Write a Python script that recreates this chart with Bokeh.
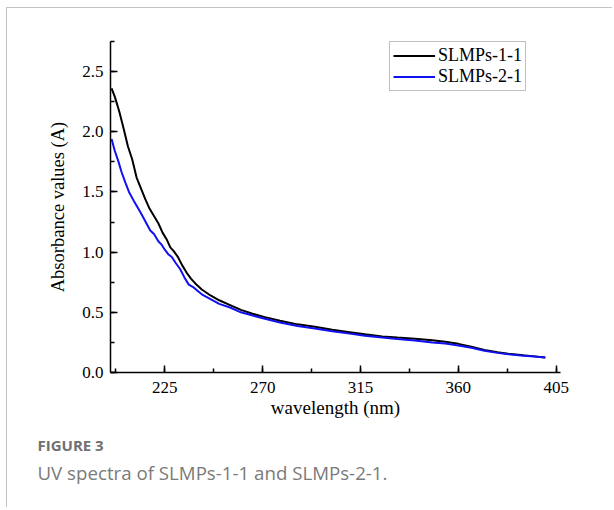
from bokeh.plotting import figure
from bokeh.models import SingleIntervalTicker, Range1d, Legend, LegendItem, Title, NumeralTickFormatter
from bokeh.embed import file_html
from bokeh.resources import INLINE

# wavelength (nm) and absorbance
wl_1 = [200.5, 202, 204, 206, 208, 210, 212, 214, 216, 218, 220, 222, 224, 226, 227.5, 229, 231, 233, 235,
        237, 239, 242, 246, 250, 255, 260, 265, 271, 278, 286, 294, 302, 310, 317, 325, 332, 340, 348, 354,
        360, 366, 372, 378, 383, 390, 395, 400]
abs_1 = [2.36, 2.29, 2.17, 2.03, 1.88, 1.77, 1.62, 1.53, 1.44, 1.36, 1.30, 1.24, 1.16, 1.10, 1.04, 1.01, 0.96,
         0.89, 0.83, 0.78, 0.74, 0.69, 0.64, 0.60, 0.56, 0.52, 0.49, 0.46, 0.43, 0.40, 0.38, 0.355, 0.335, 0.317,
         0.30, 0.29, 0.28, 0.268, 0.255, 0.238, 0.215, 0.188, 0.168, 0.156, 0.143, 0.134, 0.124]

wl_2 = [200.5, 202, 203.7, 205, 206.8, 208.5, 210.6, 212.5, 214.4, 216.5, 218.3, 220, 222, 223.6, 225, 226.7,
        228.2, 230, 232, 234, 236, 238, 240, 242, 246, 250, 255, 260, 265, 271, 278, 286, 294, 302, 310, 317,
        325, 332, 340, 348, 354, 360, 366, 372, 378, 383, 390, 395, 400]
abs_2 = [1.94, 1.84, 1.75, 1.67, 1.58, 1.50, 1.43, 1.37, 1.31, 1.24, 1.18, 1.15, 1.09, 1.06, 1.02, 0.98, 0.96,
         0.91, 0.86, 0.79, 0.73, 0.71, 0.68, 0.65, 0.61, 0.57, 0.54, 0.50, 0.475, 0.447, 0.415, 0.386, 0.365,
         0.342, 0.323, 0.306, 0.29, 0.278, 0.265, 0.25, 0.24, 0.225, 0.205, 0.18, 0.163, 0.152, 0.14, 0.132, 0.124]

series_names = ["SLMPs-1-1", "SLMPs-2-1"]
x_title = "wavelength (nm)"
y_title = "Absorbance values (A)"
fig_label = "FIGURE 3"
caption = "UV spectra of SLMPs-1-1 and SLMPs-2-1."

SERIF = "Liberation Serif"

p = figure(width=606, height=500, output_backend="svg", toolbar_location=None,
           x_range=Range1d(200, 407), y_range=Range1d(0, 2.75),
           min_border_left=103, min_border_right=53, min_border_top=33, min_border_bottom=136)
p.styles = {"margin-left": "6px", "margin-top": "7px",
            "border-left": "1px solid #c4c4c4", "border-top": "1px solid #c4c4c4"}
p.outline_line_color = None
p.xgrid.visible = False
p.ygrid.visible = False
p.background_fill_color = "white"
p.border_fill_color = "white"

r1 = p.line(wl_1, abs_1, line_color="black", line_width=2)
r2 = p.line(wl_2, abs_2, line_color="#1010f0", line_width=2)

p.xaxis.ticker = SingleIntervalTicker(interval=45, num_minor_ticks=2)
p.yaxis.ticker = SingleIntervalTicker(interval=0.5, num_minor_ticks=2)
p.yaxis.formatter = NumeralTickFormatter(format="0.0")

for ax in (p.xaxis[0], p.yaxis[0]):
    ax.axis_line_color = "black"
    ax.axis_line_width = 1.5
    ax.major_tick_line_color = "black"
    ax.minor_tick_line_color = "black"
    ax.major_tick_line_width = 1.5
    ax.minor_tick_line_width = 1.5
    ax.major_tick_in = 7
    ax.major_tick_out = 0
    ax.minor_tick_in = 4
    ax.minor_tick_out = 0
    ax.major_label_text_font = SERIF
    ax.major_label_text_font_size = "17px"
    ax.major_label_text_color = "black"
    ax.axis_label_text_font = SERIF
    ax.axis_label_text_font_size = "19px"
    ax.axis_label_text_font_style = "normal"
    ax.axis_label_text_color = "black"

p.xaxis.axis_label = x_title
p.yaxis.axis_label = y_title
p.yaxis.axis_label_text_font_size = "18.5px"
p.xaxis.major_label_standoff = 9
p.yaxis.major_label_standoff = 7
p.xaxis.axis_label_standoff = 1
p.yaxis.axis_label_standoff = 11

legend = Legend(items=[LegendItem(label=series_names[0], renderers=[r1]),
                       LegendItem(label=series_names[1], renderers=[r2])],
                location=(279, 281), margin=0, padding=3, spacing=0,
                glyph_width=42, glyph_height=21, label_height=21, label_standoff=3,
                label_text_font=SERIF, label_text_font_size="18px", label_text_color="black",
                border_line_color="#808080", border_line_width=1,
                background_fill_color="white", background_fill_alpha=1)
p.add_layout(legend, "center")

p.add_layout(Title(text=fig_label, align="left", offset=-73, standoff=25,
                   text_font="Open Sans", text_font_size="15px", text_font_style="bold",
                   text_color="#707070"), "below")
p.add_layout(Title(text=caption, align="left", offset=-73, standoff=-20,
                   text_font="Open Sans", text_font_size="18.7px", text_font_style="normal",
                   text_color="#7a7a7a"), "below")

open("out.html", "w").write(file_html(p, INLINE))
